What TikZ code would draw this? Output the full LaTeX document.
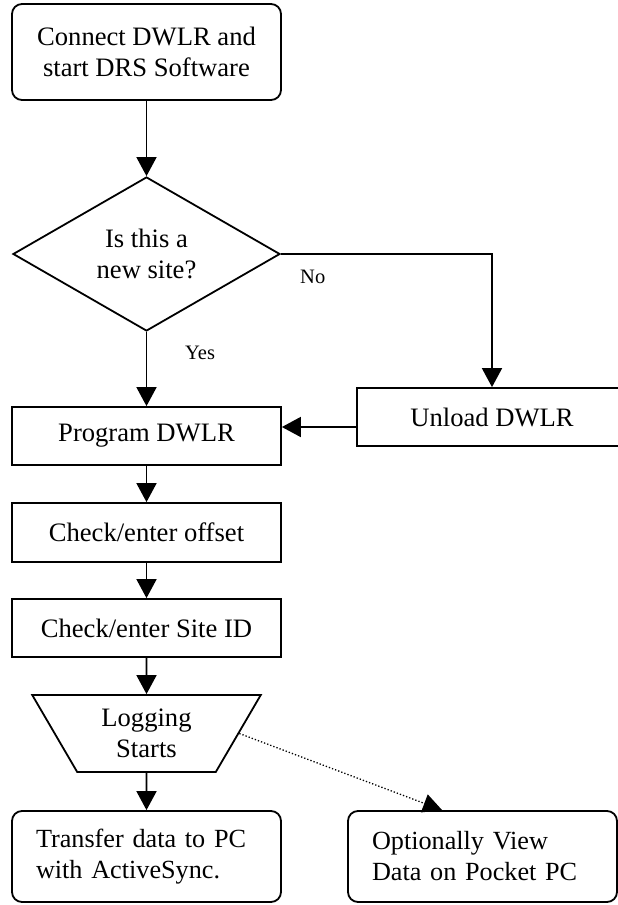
\documentclass[tikz,border=0pt]{standalone}
\usepackage{fontspec}
\setmainfont{Liberation Serif}
\usetikzlibrary{arrows.meta,shapes.geometric,calc}

\tikzset{
  base/.style={draw, line width=1.8pt, inner sep=0pt, align=center,
    font=\fontsize{26.6}{31}\selectfont},
  procbox/.style={base, rectangle, minimum width=269pt, minimum height=58pt},
  roundbox/.style={base, rectangle, rounded corners=10pt},
  notebox/.style={base, rectangle, rounded corners=10pt, align=left,
    font=\fontsize{26.2}{31}\selectfont,
    text width=221pt, inner xsep=24pt, minimum height=91pt},
  decision/.style={base, diamond, aspect=1.73, minimum width=267pt, minimum height=154pt},
  startlog/.style={base, trapezium, trapezium left angle=120.9, trapezium right angle=120.9,
    trapezium stretches=true, minimum width=229pt, minimum height=77pt},
  branchlabel/.style={font=\fontsize{20.5}{24}\selectfont, inner sep=0pt},
  flow/.style={line width=1.8pt, -{Triangle[length=19pt,width=20pt]}},
  optflow/.style={line width=1.3pt, dotted, -{Triangle[length=19pt,width=19pt]}}
}

\begin{document}
\begin{tikzpicture}[x=1pt, y=-1pt]
  \useasboundingbox (0,0) rectangle (618,905);

  % main column
  \node[roundbox, minimum width=269pt, minimum height=96pt] (connect) at (146.5,52) {Connect DWLR and\\start DRS Software};
  \node[decision] (newsite) at (146.5,254) {Is this a\\new site?};
  \node[procbox] (program) at (146.5,436) {Program DWLR};
  \node[procbox, minimum height=59pt] (offset) at (146.5,532.5) {Check/enter offset};
  \node[procbox] (siteid) at (146.5,628) {Check/enter Site ID};
  \node[startlog] (logging) at (146.5,733.5) {Logging\\Starts};
  \node[notebox] (transfer) at (146.5,856.5) {Transfer data to PC\\with ActiveSync.};

  % side branch
  \node[procbox, minimum width=270pt] (unload) at (492,417) {Unload DWLR};
  \node[notebox] (pocket) at (482.5,856.5) {Optionally View\\Data on Pocket PC};

  % branch labels
  \node[branchlabel, anchor=west] (nolabel) at (300,277) {No};
  \node[branchlabel, anchor=west] (yeslabel) at (185,353) {Yes};

  % connectors
  \coordinate (ret) at (0,427);
  \coordinate (viewtip) at ($(pocket.north west)+(95,0)$);

  \draw[flow] (connect) -- (newsite);
  \draw[flow] (newsite.south) -- (program.north);
  \draw[flow] (newsite.east) -| (unload.north);
  \draw[flow] (unload.west |- ret) -- (program.east |- ret);
  \draw[flow] (program) -- (offset);
  \draw[flow] (offset) -- (siteid);
  \draw[flow] (siteid) -- (logging);
  \draw[flow] (logging) -- (transfer);
  \draw[optflow] (logging.east) -- (viewtip);
\end{tikzpicture}
\end{document}
